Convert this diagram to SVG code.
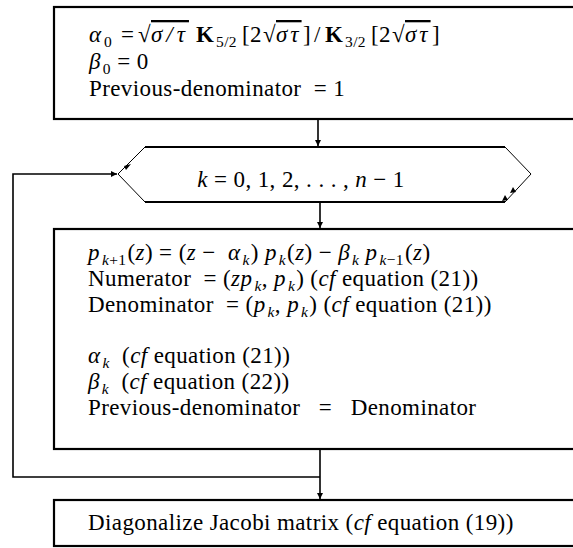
<svg xmlns="http://www.w3.org/2000/svg" width="573" height="548" viewBox="0 0 573 548">
<style>
.box{fill:none;stroke:#000;stroke-width:2.2}
.hexh{fill:none;stroke:#000;stroke-width:2.2}
.hexd{fill:none;stroke:#000;stroke-width:1}
.con{fill:none;stroke:#000;stroke-width:1.6}
.t{font-family:"Liberation Serif","DejaVu Serif",serif;font-size:23px;letter-spacing:0.4px;fill:#000}
.i{font-style:italic}
.b{font-weight:bold}
.s{font-size:15.5px}
.ov{text-decoration:overline}
</style>
<defs>
<marker id="ah" viewBox="0 0 10 10" refX="10" refY="5" markerWidth="6" markerHeight="7" orient="auto" markerUnits="userSpaceOnUse">
<path d="M0,0 L10,5 L0,10 z" fill="#000"/>
</marker>
</defs>
<g id="init">
<rect class="box" x="54" y="7" width="540" height="112"/>
<text class="t" y="42"><tspan class="i" x="89">α</tspan><tspan class="s" x="104" y="47">0</tspan><tspan x="121" y="42">=</tspan><tspan x="138">√</tspan><tspan class="i ov" x="151" style="letter-spacing:4px">σ/τ</tspan><tspan class="b" x="196">K</tspan><tspan class="s" x="216" y="47">5/2</tspan><tspan x="242" y="42">[2</tspan><tspan x="263">√</tspan><tspan class="i ov" x="276" style="letter-spacing:3px">στ</tspan><tspan x="303">]</tspan><tspan x="314">/</tspan><tspan class="b" x="325">K</tspan><tspan class="s" x="345" y="47">3/2</tspan><tspan x="371" y="42">[2</tspan><tspan x="392">√</tspan><tspan class="i ov" x="405" style="letter-spacing:3px">στ</tspan><tspan x="432">]</tspan></text>
<text class="t" x="89" y="69"><tspan class="i">β</tspan><tspan class="s" dx="2" dy="5">0</tspan><tspan dy="-5"> = 0</tspan></text>
<text class="t" x="89" y="96">Previous-denominator&#160; = 1</text>
</g>
<g id="loop">
<path class="hexh" d="M145,147 H505 M145,202 H505"/>
<path class="hexd" d="M145,147 L118,174 L145,202 M505,147 L531,174 L505,202"/>
<path d="M124,166 l7,-2 l-5,6 z M502,201 l3,-6 l3,5 z M510,193 l3,-6 l3,5 z" fill="#000"/>
<text class="t" x="301" y="187" text-anchor="middle"><tspan class="i">k</tspan> = 0, 1, 2, . . . , <tspan class="i">n</tspan> − 1</text>
</g>
<g id="body">
<rect class="box" x="54" y="229" width="540" height="220"/>
<text class="t" x="88" y="260"><tspan class="i">p</tspan><tspan class="s i" dx="2" dy="5">k</tspan><tspan class="s">+1</tspan><tspan dx="1" dy="-5">(</tspan><tspan class="i">z</tspan>) = (<tspan class="i">z</tspan> −&#160; <tspan class="i">α</tspan><tspan class="s i" dx="2" dy="5">k</tspan><tspan dx="1" dy="-5">) </tspan><tspan class="i">p</tspan><tspan class="s i" dx="2" dy="5">k</tspan><tspan dx="1" dy="-5">(</tspan><tspan class="i">z</tspan>) − <tspan class="i">β</tspan><tspan class="s i" dx="2" dy="5">k</tspan><tspan dy="-5"> </tspan><tspan class="i">p</tspan><tspan class="s i" dx="2" dy="5">k</tspan><tspan class="s">−1</tspan><tspan dx="1" dy="-5">(</tspan><tspan class="i">z</tspan>)</text>
<text class="t" x="88" y="286">Numerator&#160; = (<tspan class="i">zp</tspan><tspan class="s i" dx="2" dy="5">k</tspan><tspan dy="-5">, </tspan><tspan class="i">p</tspan><tspan class="s i" dx="2" dy="5">k</tspan><tspan dx="1" dy="-5">) (</tspan><tspan class="i">cf</tspan> equation (21))</text>
<text class="t" x="88" y="312">Denominator&#160; = (<tspan class="i">p</tspan><tspan class="s i" dx="2" dy="5">k</tspan><tspan dy="-5">, </tspan><tspan class="i">p</tspan><tspan class="s i" dx="2" dy="5">k</tspan><tspan dx="1" dy="-5">) (</tspan><tspan class="i">cf</tspan> equation (21))</text>
<text class="t" x="88" y="363"><tspan class="i">α</tspan><tspan class="s i" dx="2" dy="5">k</tspan><tspan dy="-5">&#160; (</tspan><tspan class="i">cf</tspan> equation (21))</text>
<text class="t" x="88" y="389"><tspan class="i">β</tspan><tspan class="s i" dx="2" dy="5">k</tspan><tspan dy="-5">&#160; (</tspan><tspan class="i">cf</tspan> equation (22))</text>
<text class="t" x="88" y="415">Previous-denominator&#160;&#160; =&#160;&#160; Denominator</text>
</g>
<g id="diag">
<rect class="box" x="54" y="500" width="540" height="46"/>
<text class="t" x="88" y="530">Diagonalize Jacobi matrix (<tspan class="i">cf</tspan> equation (19))</text>
</g>
<g id="connectors">
<line class="con" x1="318" y1="120" x2="318" y2="146" marker-end="url(#ah)"/>
<line class="con" x1="320" y1="202" x2="320" y2="228" marker-end="url(#ah)"/>
<line class="con" x1="320" y1="450" x2="320" y2="499" marker-end="url(#ah)"/>
<polyline class="con" points="320,477 13,477 13,174 117,174" marker-end="url(#ah)"/>
</g>
</svg>
